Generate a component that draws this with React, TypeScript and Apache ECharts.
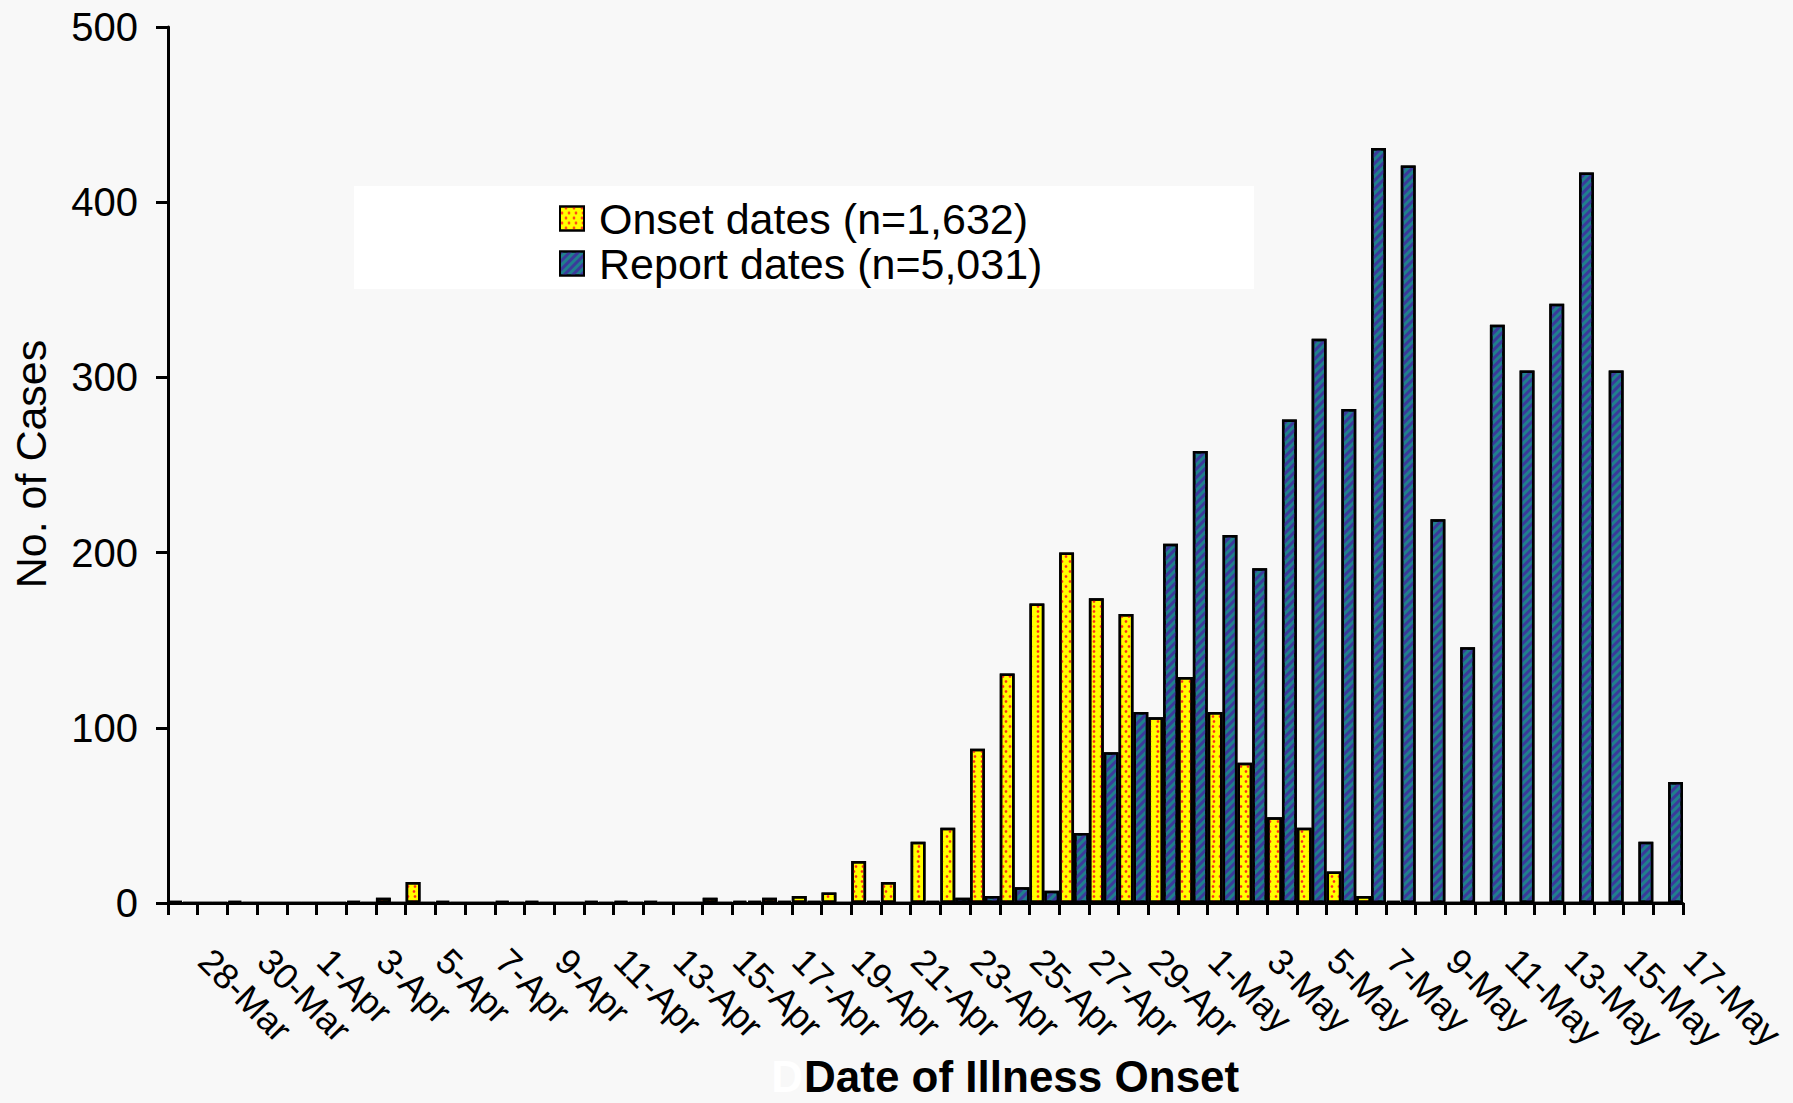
import React, { useEffect, useRef } from 'react';
import * as echarts from 'echarts';

const categories = [
  '28-Mar', '29-Mar', '30-Mar', '31-Mar',
  '1-Apr', '2-Apr', '3-Apr', '4-Apr', '5-Apr', '6-Apr', '7-Apr', '8-Apr', '9-Apr', '10-Apr',
  '11-Apr', '12-Apr', '13-Apr', '14-Apr', '15-Apr', '16-Apr', '17-Apr', '18-Apr', '19-Apr', '20-Apr',
  '21-Apr', '22-Apr', '23-Apr', '24-Apr', '25-Apr', '26-Apr', '27-Apr', '28-Apr', '29-Apr', '30-Apr',
  '1-May', '2-May', '3-May', '4-May', '5-May', '6-May', '7-May', '8-May', '9-May', '10-May',
  '11-May', '12-May', '13-May', '14-May', '15-May', '16-May', '17-May',
];

const onsetCounts = [
  1, 0, 1, 0, 0, 0, 1, 3, 12, 1, 0, 1, 1, 0, 1, 1, 1, 0, 3, 1,
  3, 4, 6, 24, 12, 35, 43, 88, 131, 171, 200, 174, 165, 106, 129, 109, 80, 49, 43, 18,
  4, 1, 0, 0, 0, 0, 0, 0, 0, 0, 0,
];

const reportCounts = [
  0, 0, 0, 0, 0, 0, 0, 0, 0, 0, 0, 0, 0, 0, 0, 0, 0, 0, 0, 1,
  1, 1, 0, 1, 0, 1, 3, 4, 9, 7, 40, 86, 109, 205, 258, 210, 191, 276, 322, 282,
  431, 421, 219, 146, 330, 304, 342, 417, 304, 35, 69,
];

const seriesNames = ['Onset dates (n=1,632)', 'Report dates (n=5,031)'];
const yAxisTitle = 'No. of Cases';
const xAxisTitle = 'Date of Illness Onset';

const FONT = "'Liberation Sans', Arial, Helvetica, sans-serif";

export default function App() {
  const ref = useRef<HTMLDivElement>(null);

  useEffect(() => {
    const chart = echarts.init(ref.current as HTMLDivElement, null, { renderer: 'svg' });
    chart.setOption({
      animation: false,
      backgroundColor: '#f8f8f8',
      textStyle: { fontFamily: FONT },
      grid: { left: 168, right: 110, top: 27, bottom: 200, containLabel: false },
      legend: {
        orient: 'vertical',
        left: 554,
        top: 191,
        itemWidth: 24,
        itemHeight: 24,
        itemGap: 0,
        icon: 'rect',
        selectedMode: false,
        z: 10,
        textStyle: {
          fontSize: 43,
          color: '#000',
          fontFamily: FONT,
          lineHeight: 45,
          padding: [0, 0, 0, 10],
        },
        data: seriesNames,
      },
      xAxis: {
        type: 'category',
        data: categories,
        boundaryGap: true,
        axisLine: { show: true, lineStyle: { color: '#000', width: 3 } },
        axisTick: { show: true, interval: 0, length: 12, lineStyle: { color: '#000', width: 3 } },
        axisLabel: {
          interval: 1,
          rotate: -45,
          fontSize: 36,
          color: '#000',
          margin: 30,
          padding: [0, 0, 0, 31],
          fontFamily: FONT,
        },
        splitLine: { show: false },
      },
      yAxis: {
        type: 'value',
        min: 0,
        max: 500,
        interval: 100,
        axisLine: { show: true, lineStyle: { color: '#000', width: 3 } },
        axisTick: { show: true, length: 12, lineStyle: { color: '#000', width: 3 } },
        axisLabel: { fontSize: 40, color: '#000', margin: 30, fontFamily: FONT },
        splitLine: { show: false },
      },
      series: [
        {
          name: seriesNames[0],
          type: 'bar',
          data: onsetCounts,
          barGap: '0%',
          barCategoryGap: '0%',
          itemStyle: {
            color: '#ffff00',
            borderColor: '#000',
            borderWidth: 2.5,
            decal: {
              symbol: 'circle',
              symbolSize: 0.9,
              color: '#ff2a1a',
              dashArrayX: [[4, 3], [0, 3.5, 3.5, 0]],
              dashArrayY: [2.5, 2],
            },
          },
        },
        {
          name: seriesNames[1],
          type: 'bar',
          data: reportCounts,
          barGap: '0%',
          barCategoryGap: '0%',
          itemStyle: {
            color: '#1f808c',
            borderColor: '#000',
            borderWidth: 2.5,
            decal: {
              symbol: 'rect',
              symbolSize: 1,
              color: '#3b3a9c',
              dashArrayX: [1, 0],
              dashArrayY: [3, 3],
              rotation: -Math.PI / 4,
            },
          },
        },
      ],
      graphic: [
        {
          type: 'rect',
          z: 0,
          shape: { x: 354, y: 186, width: 900, height: 103 },
          style: { fill: '#ffffff' },
        },
        {
          type: 'text',
          x: 31,
          y: 464,
          rotation: Math.PI / 2,
          style: {
            text: yAxisTitle,
            fontSize: 43,
            fontFamily: FONT,
            fill: '#000',
            align: 'center',
            verticalAlign: 'middle',
          },
        },
        {
          type: 'text',
          x: 803,
          y: 1076,
          style: {
            text: 'D',
            fontSize: 44,
            lineHeight: 44,
            fontWeight: 'bold',
            fontFamily: FONT,
            fill: '#ffffff',
            align: 'right',
            verticalAlign: 'middle',
          },
        },
        {
          type: 'text',
          x: 804,
          y: 1076,
          style: {
            text: xAxisTitle,
            fontSize: 44,
            lineHeight: 44,
            fontWeight: 'bold',
            fontFamily: FONT,
            fill: '#000',
            align: 'left',
            verticalAlign: 'middle',
          },
        },
      ],
    });
    return () => chart.dispose();
  }, []);

  return (
    <div
      ref={ref}
      style={{ position: 'absolute', left: 0, top: 0, width: 1793, height: 1103 }}
    />
  );
}
